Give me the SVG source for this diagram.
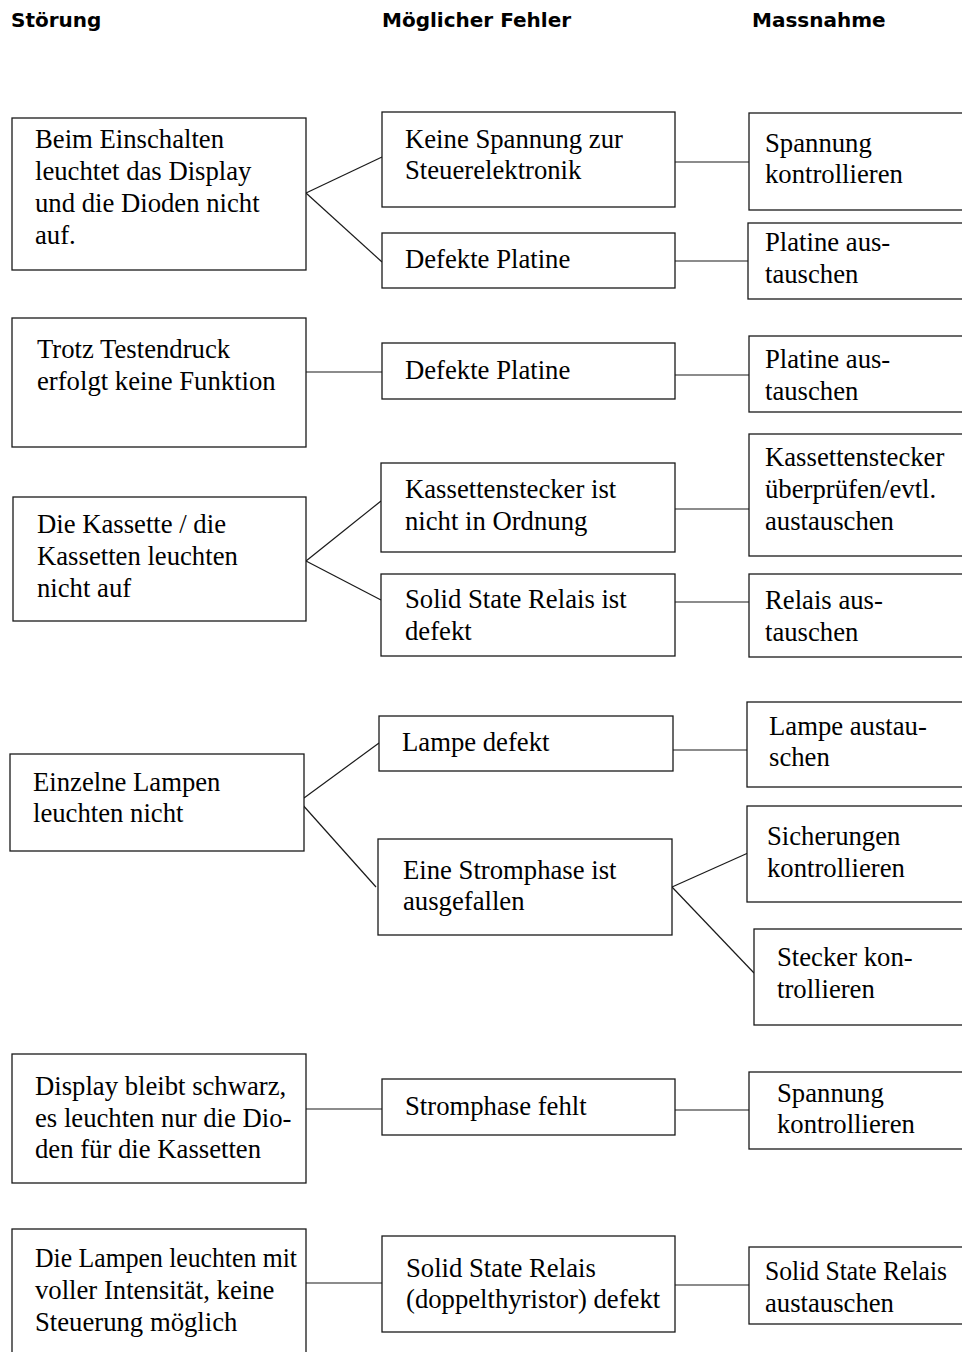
<svg xmlns="http://www.w3.org/2000/svg" width="962" height="1352" viewBox="0 0 962 1352">
<style>
.b{fill:#fff;stroke:#1a1a1a;stroke-width:1.3}
.t{font-family:"Liberation Serif","Times New Roman",serif;font-size:26.7px;fill:#000}
.h{font-family:"DejaVu Sans",Verdana,sans-serif;font-weight:bold;font-size:20px;fill:#000}
.c line{stroke:#1a1a1a;stroke-width:1.2}
</style>
<rect width="962" height="1352" fill="#fff"/>
<g id="headers">
<text class="h" x="11" y="27">Störung</text>
<text class="h" x="382" y="27">Möglicher Fehler</text>
<text class="h" x="752" y="27">Massnahme</text>
</g>
<g class="c" id="connectors">
<line x1="306" y1="193" x2="382" y2="157"/>
<line x1="306" y1="193" x2="382" y2="262"/>
<line x1="675" y1="162" x2="749" y2="162"/>
<line x1="675" y1="261" x2="748" y2="261"/>
<line x1="306" y1="372" x2="382" y2="372"/>
<line x1="675" y1="375" x2="749" y2="375"/>
<line x1="306" y1="561" x2="381" y2="501"/>
<line x1="306" y1="561" x2="381" y2="600"/>
<line x1="675" y1="509" x2="749" y2="509"/>
<line x1="675" y1="602" x2="749" y2="602"/>
<line x1="304" y1="798" x2="379" y2="743"/>
<line x1="301" y1="803" x2="376" y2="887"/>
<line x1="673" y1="750" x2="747" y2="750"/>
<line x1="672" y1="887" x2="748" y2="853"/>
<line x1="672" y1="887" x2="754" y2="973"/>
<line x1="306" y1="1109" x2="382" y2="1109"/>
<line x1="675" y1="1110" x2="749" y2="1110"/>
<line x1="306" y1="1283" x2="382" y2="1283"/>
<line x1="675" y1="1285" x2="749" y2="1285"/>
</g>
<g id="s1"><rect class="b" x="12" y="118" width="294" height="152"/>
<text class="t" x="35" y="148">Beim Einschalten</text><text class="t" x="35" y="180">leuchtet das Display</text><text class="t" x="35" y="212">und die Dioden nicht</text><text class="t" x="35" y="244">auf.</text></g>
<g id="f1"><rect class="b" x="382" y="112" width="293" height="95"/>
<text class="t" x="405" y="148">Keine Spannung zur</text><text class="t" x="405" y="179">Steuerelektronik</text></g>
<g id="f2"><rect class="b" x="382" y="233" width="293" height="55"/>
<text class="t" x="405" y="268">Defekte Platine</text></g>
<g id="m1"><rect class="b" x="749" y="113" width="220" height="97"/>
<text class="t" x="765" y="152">Spannung</text><text class="t" x="765" y="183">kontrollieren</text></g>
<g id="m2"><rect class="b" x="748" y="223" width="220" height="76"/>
<text class="t" x="765" y="251">Platine aus-</text><text class="t" x="765" y="283">tauschen</text></g>

<g id="s2"><rect class="b" x="12" y="318" width="294" height="129"/>
<text class="t" x="37" y="358">Trotz Testendruck</text><text class="t" x="37" y="390">erfolgt keine Funktion</text></g>
<g id="f3"><rect class="b" x="382" y="343" width="293" height="56"/>
<text class="t" x="405" y="379">Defekte Platine</text></g>
<g id="m3"><rect class="b" x="749" y="336" width="220" height="76"/>
<text class="t" x="765" y="368">Platine aus-</text><text class="t" x="765" y="400">tauschen</text></g>

<g id="s3"><rect class="b" x="13" y="497" width="293" height="124"/>
<text class="t" x="37" y="533">Die Kassette / die</text><text class="t" x="37" y="565">Kassetten leuchten</text><text class="t" x="37" y="597">nicht auf</text></g>
<g id="f4"><rect class="b" x="381" y="463" width="294" height="89"/>
<text class="t" x="405" y="498">Kassettenstecker ist</text><text class="t" x="405" y="530">nicht in Ordnung</text></g>
<g id="f5"><rect class="b" x="381" y="574" width="294" height="82"/>
<text class="t" x="405" y="608">Solid State Relais ist</text><text class="t" x="405" y="640">defekt</text></g>
<g id="m4"><rect class="b" x="749" y="434" width="220" height="122"/>
<text class="t" x="765" y="466">Kassettenstecker</text><text class="t" x="765" y="498">überprüfen/evtl.</text><text class="t" x="765" y="530">austauschen</text></g>
<g id="m5"><rect class="b" x="749" y="574" width="220" height="83"/>
<text class="t" x="765" y="609">Relais aus-</text><text class="t" x="765" y="641">tauschen</text></g>

<g id="s4"><rect class="b" x="10" y="754" width="294" height="97"/>
<text class="t" x="33" y="791">Einzelne Lampen</text><text class="t" x="33" y="822">leuchten nicht</text></g>
<g id="f6"><rect class="b" x="379" y="716" width="294" height="55"/>
<text class="t" x="402" y="751">Lampe defekt</text></g>
<g id="f7"><rect class="b" x="378" y="839" width="294" height="96"/>
<text class="t" x="403" y="879">Eine Stromphase ist</text><text class="t" x="403" y="910">ausgefallen</text></g>
<g id="m6"><rect class="b" x="747" y="702" width="222" height="85"/>
<text class="t" x="769" y="735">Lampe austau-</text><text class="t" x="769" y="766">schen</text></g>
<g id="m7"><rect class="b" x="747" y="806" width="222" height="96"/>
<text class="t" x="767" y="845">Sicherungen</text><text class="t" x="767" y="877">kontrollieren</text></g>
<g id="m8"><rect class="b" x="754" y="929" width="215" height="96"/>
<text class="t" x="777" y="966">Stecker kon-</text><text class="t" x="777" y="998">trollieren</text></g>

<g id="s5"><rect class="b" x="12" y="1054" width="294" height="129"/>
<text class="t" x="35" y="1095">Display bleibt schwarz,</text><text class="t" x="35" y="1127">es leuchten nur die Dio-</text><text class="t" x="35" y="1158">den für die Kassetten</text></g>
<g id="f8"><rect class="b" x="382" y="1079" width="293" height="56"/>
<text class="t" x="405" y="1115">Stromphase fehlt</text></g>
<g id="m9"><rect class="b" x="749" y="1072" width="220" height="77"/>
<text class="t" x="777" y="1102">Spannung</text><text class="t" x="777" y="1133">kontrollieren</text></g>

<g id="s6"><rect class="b" x="12" y="1229" width="294" height="140"/>
<text class="t" x="35" y="1267" textLength="262" lengthAdjust="spacingAndGlyphs">Die Lampen leuchten mit</text><text class="t" x="35" y="1299">voller Intensität, keine</text><text class="t" x="35" y="1331">Steuerung möglich</text></g>
<g id="f9"><rect class="b" x="382" y="1236" width="293" height="96"/>
<text class="t" x="406" y="1277">Solid State Relais</text><text class="t" x="406" y="1308">(doppelthyristor) defekt</text></g>
<g id="m10"><rect class="b" x="749" y="1247" width="220" height="77"/>
<text class="t" x="765" y="1280" textLength="182" lengthAdjust="spacingAndGlyphs">Solid State Relais</text><text class="t" x="765" y="1312">austauschen</text></g>
</svg>
